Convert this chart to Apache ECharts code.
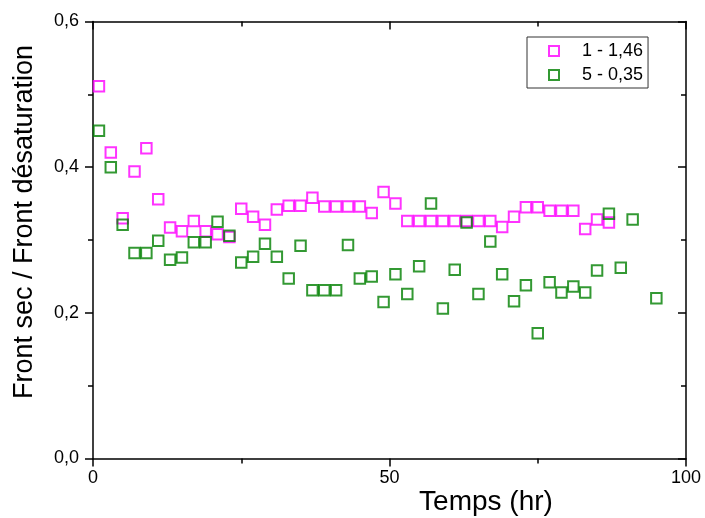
<!DOCTYPE html>
<html>
<head>
<meta charset="utf-8">
<script src="https://cdn.jsdelivr.net/npm/echarts@6/dist/echarts.min.js"></script>
<style>html,body{margin:0;padding:0;background:#fff}#c{width:705px;height:518px}</style>
</head>
<body>
<div id="c"></div>
<script>
const timeA = [1,3,5,7,9,11,13,15,17,19,21,23,25,27,29,31,33,35,37,39,41,43,45,47,49,51,53,55,57,59,61,63,65,67,69,71,73,75,77,79,81,83,85,87];
const valuesA = [0.511,0.420,0.330,0.394,0.426,0.356,0.317,0.312,0.326,0.312,0.308,0.304,0.343,0.332,0.321,0.342,0.347,0.347,0.358,0.346,0.346,0.346,0.346,0.337,0.366,0.350,0.326,0.326,0.326,0.326,0.326,0.326,0.326,0.326,0.318,0.332,0.345,0.345,0.340,0.340,0.340,0.315,0.328,0.324];
const timeB = [1,3,5,7,9,11,13,15,17,19,21,23,25,27,29,31,33,35,37,39,41,43,45,47,49,51,53,55,57,59,61,63,65,67,69,71,73,75,77,79,81,83,85,87,89,91,95];
const valuesB = [0.450,0.400,0.321,0.282,0.282,0.299,0.273,0.276,0.297,0.297,0.325,0.306,0.269,0.277,0.295,0.277,0.247,0.292,0.231,0.231,0.231,0.293,0.247,0.250,0.215,0.253,0.226,0.264,0.350,0.206,0.259,0.324,0.226,0.298,0.253,0.216,0.238,0.172,0.242,0.228,0.236,0.228,0.258,0.336,0.262,0.328,0.220];
const seriesNames = ['1 - 1,46', '5 - 0,35'];
const seriesColors = ['#ff00ff', '#008000'];
const xTicks = [0, 50, 100];
const yTicks = [0.0, 0.2, 0.4, 0.6];
const xTitle = 'Temps (hr)';
const yTitle = 'Front sec / Front désaturation';

const font = 'Arial, "Liberation Sans", sans-serif';
const chart = echarts.init(document.getElementById('c'), null, {renderer: 'canvas'});
const axisLine = {show: true, onZero: false, lineStyle: {color: '#000', width: 1.5}};
function pairs(xs, ys){ return xs.map((x,i)=>[x, ys[i]]); }
const option = {
  backgroundColor: '#fff',
  animation: false,
  grid: {left: 93, right: 19, top: 21.5, bottom: 59.5, containLabel: false},
  xAxis: [
    {type: 'value', position: 'bottom', min: 0, max: 100, interval: 50,
     axisLine: axisLine,
     axisTick: {show: true, length: 8, lineStyle: {color: '#000', width: 1.5}},
     minorTick: {show: true, splitNumber: 2, length: 5, lineStyle: {color: '#000', width: 1.5}},
     splitLine: {show: false},
     axisLabel: {show: true, margin: 11, fontSize: 18, color: '#000', fontFamily: font,
       formatter: v => xTicks.includes(v) ? String(v) : ''}},
    {type: 'value', position: 'top', min: 0, max: 100, interval: 50,
     axisLine: axisLine,
     axisTick: {show: true, inside: true, length: 8, lineStyle: {color: '#000', width: 1.5}},
     minorTick: {show: true, splitNumber: 2, length: 5, lineStyle: {color: '#000', width: 1.5}},
     splitLine: {show: false}, axisLabel: {show: false}}
  ],
  yAxis: [
    {type: 'value', position: 'left', min: 0, max: 0.6, interval: 0.2,
     axisLine: axisLine,
     axisTick: {show: true, length: 8, lineStyle: {color: '#000', width: 1.5}},
     minorTick: {show: true, splitNumber: 2, length: 5, lineStyle: {color: '#000', width: 1.5}},
     splitLine: {show: false},
     axisLabel: {show: true, margin: 14, fontSize: 18, color: '#000', fontFamily: font,
       formatter: v => v.toFixed(1).replace('.', ',')}},
    {type: 'value', position: 'right', min: 0, max: 0.6, interval: 0.2,
     axisLine: axisLine,
     axisTick: {show: true, inside: true, length: 8, lineStyle: {color: '#000', width: 1.5}},
     minorTick: {show: true, splitNumber: 2, length: 5, lineStyle: {color: '#000', width: 1.5}},
     splitLine: {show: false}, axisLabel: {show: false}}
  ],
  legend: {
    orient: 'vertical', left: 527, top: 37,
    padding: [5, 5, 4, 21],
    itemGap: 6, itemWidth: 10, itemHeight: 10,
    borderColor: '#333', borderWidth: 1, borderRadius: 0,
    textStyle: {fontSize: 18, color: '#000', fontFamily: font, padding: [0, 0, 0, 18]},
    data: seriesNames.map(n => ({name: n, icon: 'rect'}))
  },
  graphic: [
    {type: 'text', x: 25, y: 222, rotation: Math.PI/2, style: {text: yTitle, fontSize: 27, fontFamily: font, fill: '#000', align: 'center', verticalAlign: 'middle'}},
    {type: 'text', x: 486, y: 502, style: {text: xTitle, fontSize: 28, fontFamily: font, fill: '#000', align: 'center', verticalAlign: 'middle'}}
  ],
  series: [
    {name: seriesNames[0], type: 'scatter', symbol: 'rect', symbolSize: 10.5,
     data: pairs(timeA, valuesA),
     itemStyle: {color: 'rgba(0,0,0,0)', borderColor: seriesColors[0], borderWidth: 2}},
    {name: seriesNames[1], type: 'scatter', symbol: 'rect', symbolSize: 10.5,
     data: pairs(timeB, valuesB),
     itemStyle: {color: 'rgba(0,0,0,0)', borderColor: seriesColors[1], borderWidth: 2}}
  ]
};
chart.setOption(option);
</script>
</body>
</html>
